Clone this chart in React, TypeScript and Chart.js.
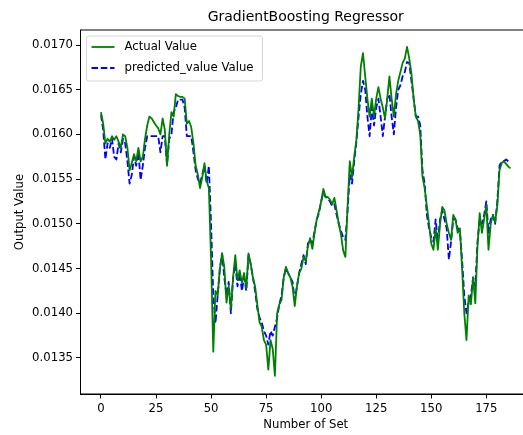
import React, { useEffect, useRef } from "react";
import { Chart, registerables } from "chart.js";

Chart.register(...registerables);

const chartTitle = "GradientBoosting Regressor";
const xAxisLabel = "Number of Set";
const yAxisLabel = "Output Value";
const actualLabel = "Actual Value";
const predictedLabel = "predicted_value Value";

const xTicks = [0, 25, 50, 75, 100, 125, 150, 175];
const yTicks = [0.0135, 0.014, 0.0145, 0.015, 0.0155, 0.016, 0.0165, 0.017];

const actualValues = [
  0.01625, 0.01612, 0.0159, 0.01595, 0.01592, 0.01598, 0.01594, 0.01598, 0.01592, 0.01585,
  0.016, 0.01598, 0.01585, 0.0156, 0.01568, 0.01578, 0.0157, 0.01585, 0.0157, 0.01575,
  0.01595, 0.0161, 0.0162, 0.01618, 0.01614, 0.0161, 0.01607, 0.016, 0.01618, 0.01605,
  0.01565, 0.016, 0.01625, 0.0162, 0.01645, 0.01643, 0.01642, 0.01642, 0.0164, 0.01612,
  0.01615, 0.01608, 0.0159, 0.01565, 0.01555, 0.0154, 0.01552, 0.01568, 0.01548, 0.0154,
  0.0146, 0.01357, 0.01425, 0.0142, 0.0145, 0.01467, 0.01452, 0.01412, 0.0143, 0.01405,
  0.0144, 0.01465, 0.01437, 0.01448, 0.01434, 0.01445, 0.01428, 0.01467, 0.01455, 0.0144,
  0.0143, 0.0141, 0.0139, 0.01385, 0.0137, 0.01365, 0.01337, 0.0137, 0.0136, 0.0133,
  0.014, 0.0141, 0.01415, 0.0144, 0.01452, 0.01445, 0.0144, 0.0143, 0.01408, 0.0143,
  0.01445, 0.0145, 0.01463, 0.01458, 0.01475, 0.01484, 0.01472, 0.0149, 0.01505, 0.01514,
  0.01525, 0.01539, 0.0153, 0.0153, 0.01527, 0.01522, 0.01529, 0.01515, 0.015, 0.01488,
  0.0147, 0.01463, 0.0152, 0.0157, 0.01552, 0.01575, 0.01594, 0.0163, 0.01676, 0.01691,
  0.01665, 0.0164, 0.0162, 0.0164, 0.0162, 0.0164, 0.01653, 0.0164, 0.0163, 0.01618,
  0.0164, 0.01665, 0.0164, 0.0162, 0.01645, 0.0166, 0.0167, 0.0168, 0.01685, 0.01698,
  0.01685, 0.01668, 0.0164, 0.0162, 0.01615, 0.016, 0.01553, 0.0154, 0.0152, 0.015,
  0.01478, 0.01471, 0.01495, 0.01471, 0.015, 0.01519, 0.01515, 0.015, 0.0149, 0.01482,
  0.0151, 0.01505, 0.0149, 0.01495, 0.0145, 0.014, 0.0137, 0.0142, 0.0141, 0.0144,
  0.01411, 0.01475, 0.01512, 0.0149, 0.01505, 0.01521, 0.01471, 0.015, 0.0151, 0.01502,
  0.0152, 0.0156, 0.01568, 0.0157, 0.01567, 0.01564, 0.01562,
];

const predictedValues = [
  0.01622, 0.01605, 0.01572, 0.0159, 0.01585, 0.01595, 0.01575, 0.01572, 0.0159, 0.0158,
  0.01595, 0.0159, 0.0157, 0.01545, 0.01555, 0.01575, 0.01565, 0.0158, 0.01549, 0.01565,
  0.01585, 0.01598, 0.01598, 0.01598, 0.01598, 0.01598, 0.01598, 0.0158, 0.01598, 0.01598,
  0.01566, 0.01595, 0.016, 0.01625, 0.0163, 0.01639, 0.01639, 0.01639, 0.0163, 0.01598,
  0.01598, 0.01598, 0.0158, 0.0156, 0.0155, 0.01545, 0.01555, 0.01565, 0.01545, 0.01565,
  0.015, 0.0142, 0.01389, 0.0142, 0.0145, 0.01467, 0.0144, 0.0142, 0.01435, 0.014,
  0.0144, 0.01455, 0.0143, 0.01445, 0.01425, 0.0144, 0.01425, 0.01465, 0.01455, 0.0144,
  0.01425, 0.01405, 0.01395, 0.0139, 0.0138, 0.01375, 0.01365, 0.0138, 0.01375, 0.01385,
  0.01395, 0.0141, 0.0142, 0.0144, 0.0145, 0.01445, 0.0144, 0.01435, 0.01415, 0.0143,
  0.01445, 0.01455, 0.01465, 0.01455, 0.01478, 0.01482, 0.01478, 0.01492, 0.01505, 0.01512,
  0.01525, 0.01535, 0.0153, 0.01528, 0.01525, 0.0152, 0.01522, 0.0151, 0.015, 0.01492,
  0.01485, 0.01482, 0.01515, 0.01555, 0.01545, 0.0157, 0.01592, 0.0162, 0.01645, 0.0166,
  0.0165, 0.0162, 0.01598, 0.0163, 0.0161, 0.0163, 0.0164, 0.0162, 0.01598, 0.0162,
  0.0164, 0.01645, 0.0162, 0.016, 0.0163, 0.0165, 0.01655, 0.01665, 0.0167, 0.01681,
  0.0168, 0.0166, 0.0164, 0.0162, 0.0162, 0.0161, 0.0156, 0.01545, 0.0151, 0.01495,
  0.01485, 0.0148, 0.01505, 0.0148, 0.01505, 0.01515, 0.01505, 0.01495, 0.0146, 0.0148,
  0.01505, 0.01505, 0.01495, 0.01492, 0.0146, 0.0142, 0.014, 0.01412, 0.0142, 0.0144,
  0.0143, 0.0148, 0.01505, 0.015, 0.0151, 0.01525, 0.0149, 0.01505, 0.0151, 0.015,
  0.01525, 0.01565, 0.0157, 0.0157, 0.01572, 0.0157,
];

const FONT = "'DejaVu Sans', sans-serif";
const GREEN = "#008000";
const BLUE = "#0000ff";

const decorPlugin = {
  id: "mplDecor",
  afterDraw(chart: any) {
    const { ctx, chartArea } = chart;
    const { left, right, top, bottom } = chartArea;
    ctx.save();
    // frame
    ctx.strokeStyle = "#000";
    ctx.lineWidth = 1;
    ctx.strokeRect(left, top, right - left, bottom - top);
    const cx = (left + right) / 2;
    ctx.fillStyle = "#000";
    ctx.textAlign = "center";
    ctx.textBaseline = "middle";
    // title
    ctx.font = `14px ${FONT}`;
    ctx.fillText(chartTitle, cx, 17);
    // x label
    ctx.font = `11.7px ${FONT}`;
    ctx.fillText(xAxisLabel, cx, 425);
    // y label
    ctx.save();
    ctx.translate(20, (top + bottom) / 2);
    ctx.rotate(-Math.PI / 2);
    ctx.fillText(yAxisLabel, 0, 0);
    ctx.restore();
    // legend
    const lx = left + 6;
    const ly = top + 6;
    const lw = 176;
    const lh = 45;
    ctx.globalAlpha = 0.8;
    ctx.fillStyle = "#fff";
    ctx.strokeStyle = "#cccccc";
    ctx.beginPath();
    const r = 2.5;
    ctx.moveTo(lx + r, ly);
    ctx.lineTo(lx + lw - r, ly);
    ctx.arcTo(lx + lw, ly, lx + lw, ly + r, r);
    ctx.lineTo(lx + lw, ly + lh - r);
    ctx.arcTo(lx + lw, ly + lh, lx + lw - r, ly + lh, r);
    ctx.lineTo(lx + r, ly + lh);
    ctx.arcTo(lx, ly + lh, lx, ly + lh - r, r);
    ctx.lineTo(lx, ly + r);
    ctx.arcTo(lx, ly, lx + r, ly, r);
    ctx.closePath();
    ctx.fill();
    ctx.stroke();
    ctx.globalAlpha = 1;
    const rows = [
      { label: actualLabel, color: GREEN, dash: [] as number[], y: 47 },
      { label: predictedLabel, color: BLUE, dash: [6.5, 2.8], y: 68 },
    ];
    rows.forEach((row) => {
      ctx.strokeStyle = row.color;
      ctx.lineWidth = 1.8;
      ctx.setLineDash(row.dash);
      ctx.beginPath();
      ctx.moveTo(lx + 5, row.y);
      ctx.lineTo(lx + 28, row.y);
      ctx.stroke();
      ctx.setLineDash([]);
      ctx.fillStyle = "#000";
      ctx.textAlign = "left";
      ctx.font = `11.7px ${FONT}`;
      ctx.fillText(row.label, lx + 38, row.y);
    });
    ctx.restore();
  },
};

export default function App() {
  const canvasRef = useRef<HTMLCanvasElement | null>(null);

  useEffect(() => {
    if (!canvasRef.current) return;
    const actualPts = actualValues.map((v, i) => ({ x: i, y: v }));
    const predictedPts = predictedValues.map((v, i) => ({ x: i, y: v }));
    const tickFont = { family: FONT, size: 11.7 };
    const chart = new Chart(canvasRef.current, {
      type: "line",
      data: {
        datasets: [
          {
            label: actualLabel,
            data: actualPts,
            borderColor: GREEN,
            borderWidth: 1.8,
            pointRadius: 0,
            tension: 0,
            fill: false,
            borderJoinStyle: "round",
          },
          {
            label: predictedLabel,
            data: predictedPts,
            borderColor: BLUE,
            borderWidth: 1.8,
            borderDash: [6.5, 2.8],
            pointRadius: 0,
            tension: 0,
            fill: false,
            borderJoinStyle: "round",
          },
        ],
      },
      options: {
        animation: false,
        responsive: false,
        devicePixelRatio: 1,
        layout: { padding: { top: 30, right: 9, left: 0, bottom: 0 } },
        plugins: {
          legend: { display: false },
          title: { display: false },
          tooltip: { enabled: false },
        },
        scales: {
          x: {
            type: "linear",
            min: -9.3,
            max: 195.3,
            afterBuildTicks: (s: any) => {
              s.ticks = xTicks.map((v) => ({ value: v }));
            },
            afterFit: (s: any) => {
              s.height = 41;
            },
            ticks: {
              font: tickFont,
              color: "#000",
              padding: 3,
              maxRotation: 0,
              autoSkip: false,
              callback: (v: any) => String(v),
            },
            grid: { drawOnChartArea: false, drawTicks: true, tickLength: 4.5, color: "#000" },
            border: { display: true, color: "#000", width: 1 },
          },
          y: {
            type: "linear",
            min: 0.013097,
            max: 0.017168,
            afterBuildTicks: (s: any) => {
              s.ticks = yTicks.map((v) => ({ value: v }));
            },
            afterFit: (s: any) => {
              s.width = 80.5;
            },
            ticks: {
              font: tickFont,
              color: "#000",
              padding: 3,
              autoSkip: false,
              callback: (v: any) => Number(v).toFixed(4),
            },
            grid: { drawOnChartArea: false, drawTicks: true, tickLength: 4.5, color: "#000" },
            border: { display: true, color: "#000", width: 1 },
          },
        },
      } as any,
      plugins: [decorPlugin],
    });
    return () => chart.destroy();
  }, []);

  return (
    <div
      style={{
        position: "absolute",
        left: 0,
        top: 0,
        width: 523,
        height: 435,
        overflow: "hidden",
        background: "#fff",
      }}
    >
      <canvas ref={canvasRef} width={540} height={435} style={{ width: 540, height: 435, display: "block" }} />
    </div>
  );
}
